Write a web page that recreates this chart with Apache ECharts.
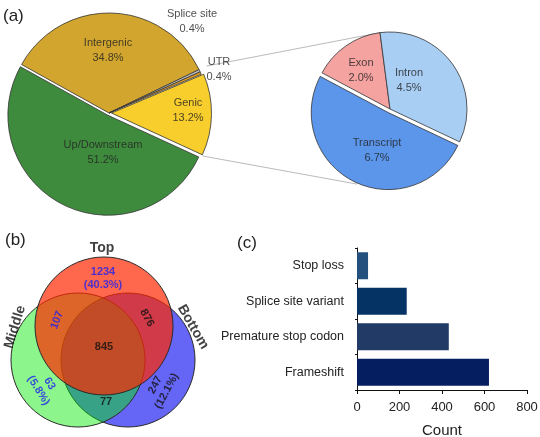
<!DOCTYPE html>
<html>
<head>
<meta charset="utf-8">
<script src="https://cdn.jsdelivr.net/npm/echarts@6/dist/echarts.min.js"></script>
<style>
html,body{margin:0;padding:0;background:#fff;}
#main{width:540px;height:437px;}
</style>
</head>
<body>
<div id="main"></div>
<script>
// ---------- data ----------
// (a) main pie (percent of variants)
const pieMainNames  = ['Intergenic', 'Splice site', 'UTR', 'Genic', 'Up/Downstream'];
const pieMainValues = [34.8, 0.4, 0.4, 13.2, 51.2];
// (a) secondary pie (breakdown of Genic)
const pieSubNames  = ['Exon', 'Intron', 'Transcript'];
const pieSubValues = [2.0, 4.5, 6.7];
// (b) Venn counts
const vennSets = ['Top', 'Middle', 'Bottom'];
const onlyTop = 1234, onlyMiddle = 63, onlyBottom = 247;
const topMiddle = 107, topBottom = 876, middleBottom = 77, allThree = 845;
// (c) bar chart (bottom-to-top order)
const barCategories = ['Frameshift', 'Premature stop codon', 'Splice site variant', 'Stop loss'];
const barValues = [621, 432, 234, 52];

// ---------- layout / style (not data) ----------
const FONT = 'Liberation Sans, Arial, sans-serif';
const P1 = {cx: 109, cy: 113, r: 100, start: 151, offset: 2.5};
const P2 = {cx: 390, cy: 109, r: 77, start: 152, offset: 4};
const pieMainExploded = ['Genic', 'Up/Downstream'];
const pieSubExploded = ['Transcript'];
const pieMainColors = ['#D2A62E', '#BDBDBD', '#E8A020', '#F8CE2C', '#3F8B3E'];
const pieSubColors = ['#F4A3A1', '#A9CEF4', '#5B96EB'];
const pieMainLabelPos = [[108, 50], [192, 21], [219, 69], [188, 110], [103, 152]];
const pieSubLabelPos = [[361, 70], [409, 80], [377, 150]];
const vennCircles = [ // drawn order: Bottom, Middle, Top
  {set: 'Bottom', cx: 128, cy: 360, r: 67, color: 'rgba(0,0,240,0.6)'},
  {set: 'Middle', cx: 78,  cy: 360, r: 67, color: 'rgba(0,235,0,0.45)'},
  {set: 'Top',    cx: 104, cy: 326, r: 69, color: 'rgba(255,40,0,0.7)'}
];
const BLUE = '#2222EE', BLACK = '#111';
const barColors = ['#051E5F', '#213A66', '#053464', '#23507D'];

// ---------- derived ----------
const topTotal = onlyTop + topMiddle + topBottom + allThree;
const middleTotal = onlyMiddle + topMiddle + middleBottom + allThree;
const bottomTotal = onlyBottom + topBottom + middleBottom + allThree;
const pct = (a, b) => '(' + (100 * a / b).toFixed(1) + '%)';

const textMarks = [];
pieMainNames.forEach((n, i) => textMarks.push({x: pieMainLabelPos[i][0], y: pieMainLabelPos[i][1],
  text: n + '\n' + pieMainValues[i].toFixed(1) + '%', rot: 0, color: '#222', size: 11, weight: 'normal'}));
pieSubNames.forEach((n, i) => textMarks.push({x: pieSubLabelPos[i][0], y: pieSubLabelPos[i][1],
  text: n + '\n' + pieSubValues[i].toFixed(1) + '%', rot: 0, color: '#222', size: 11, weight: 'normal'}));
[
  {x: 102, y: 248, text: vennSets[0], rot: 0, color: BLACK, size: 14},
  {x: 15, y: 327, text: vennSets[1], rot: 73, color: BLACK, size: 14},
  {x: 193, y: 327, text: vennSets[2], rot: -60, color: BLACK, size: 14},
  {x: 103, y: 278, text: onlyTop + '\n' + pct(onlyTop, topTotal), rot: 0, color: BLUE, size: 11},
  {x: 57, y: 320, text: String(topMiddle), rot: 70, color: BLUE, size: 11},
  {x: 147, y: 318, text: String(topBottom), rot: -62, color: BLACK, size: 11},
  {x: 104, y: 347, text: String(allThree), rot: 0, color: BLACK, size: 11},
  {x: 44, y: 387, text: onlyMiddle + '\n' + pct(onlyMiddle, middleTotal), rot: -58, color: BLUE, size: 11},
  {x: 161, y: 388, text: onlyBottom + '\n' + pct(onlyBottom, bottomTotal), rot: 62, color: BLACK, size: 11},
  {x: 106, y: 402, text: String(middleBottom), rot: 0, color: BLACK, size: 11}
].forEach(l => { l.weight = 'bold'; textMarks.push(l); });

function pt(p, deg, d) {
  const a = deg * Math.PI / 180;
  return [p.cx + d * Math.cos(a), p.cy - d * Math.sin(a)];
}
const total1 = pieMainValues.reduce((a, b) => a + b, 0);
const genicIdx = pieMainNames.indexOf('Genic');
let acc = 0;
for (let i = 0; i < genicIdx - 2; i++) acc += pieMainValues[i];
const upperAngle = P1.start - 360 * acc / total1;
let acc2 = 0;
for (let i = 0; i <= genicIdx; i++) acc2 += pieMainValues[i];
const lowerAngle = P1.start - 360 * acc2 / total1;
const total2 = pieSubValues.reduce((a, b) => a + b, 0);
const subTopAngle = P2.start - 360 * pieSubValues[0] / total2;
const u1 = pt(P1, upperAngle, P1.r + 8), u2 = pt(P2, subTopAngle, P2.r);
const l1 = pt(P1, lowerAngle, P1.r + 3), l2 = pt(P2, -113.7, P2.r + 5);

const chart = echarts.init(document.getElementById('main'), null, {renderer: 'canvas'});

const option = {
  animation: false,
  backgroundColor: '#fff',
  grid: [
    {left: 0, top: 0, width: 540, height: 437, show: false, outerBoundsMode: 'none', containLabel: false},
    {left: 357, top: 248, right: 13, bottom: 47, show: false, outerBoundsMode: 'none', containLabel: false}
  ],
  xAxis: [
    {gridIndex: 0, type: 'value', min: 0, max: 540, show: false},
    {gridIndex: 1, type: 'value', min: 0, max: 800, interval: 200,
     axisLine: {show: true, lineStyle: {color: '#111', width: 1}},
     axisTick: {show: true, length: 4, lineStyle: {color: '#111'}},
     splitLine: {show: false},
     axisLabel: {color: '#222', fontFamily: FONT, fontSize: 13, margin: 11},
     name: 'Count', nameLocation: 'middle', nameGap: 33,
     nameTextStyle: {color: '#222', fontFamily: FONT, fontSize: 15}}
  ],
  yAxis: [
    {gridIndex: 0, type: 'value', min: 0, max: 437, inverse: true, show: false},
    {gridIndex: 1, type: 'category', data: barCategories,
     axisLine: {show: true, lineStyle: {color: '#111', width: 1}},
     axisTick: {show: true, length: 2, lineStyle: {color: '#111'}},
     axisLabel: {color: '#222', fontFamily: FONT, fontSize: 12.5, margin: 13}}
  ],
  graphic: [
    {type: 'line', z: 0, shape: {x1: u1[0], y1: u1[1], x2: u2[0], y2: u2[1]}, style: {stroke: '#BBBBBB', lineWidth: 1}},
    {type: 'line', z: 0, shape: {x1: l1[0], y1: l1[1], x2: l2[0], y2: l2[1]}, style: {stroke: '#BBBBBB', lineWidth: 1}},
    {type: 'text', left: 3, top: 8, style: {text: '(a)', font: '17px ' + FONT, fill: '#222'}},
    {type: 'text', left: 5, top: 232, style: {text: '(b)', font: '17px ' + FONT, fill: '#222'}},
    {type: 'text', left: 237, top: 235, style: {text: '(c)', font: '17px ' + FONT, fill: '#222'}}
  ],
  series: [
    {
      type: 'pie', center: [P1.cx, P1.cy], radius: P1.r, startAngle: P1.start, clockwise: true,
      selectedMode: 'multiple', selectedOffset: P1.offset, silent: true,
      itemStyle: {borderColor: '#333', borderWidth: 0.8},
      label: {show: false}, labelLine: {show: false},
      data: pieMainNames.map((n, i) => ({name: n, value: pieMainValues[i],
        selected: pieMainExploded.includes(n), itemStyle: {color: pieMainColors[i]}}))
    },
    {
      type: 'pie', center: [P2.cx, P2.cy], radius: P2.r, startAngle: P2.start, clockwise: true,
      selectedMode: 'multiple', selectedOffset: P2.offset, silent: true,
      itemStyle: {borderColor: '#333', borderWidth: 0.8},
      label: {show: false}, labelLine: {show: false},
      data: pieSubNames.map((n, i) => ({name: n, value: pieSubValues[i],
        selected: pieSubExploded.includes(n), itemStyle: {color: pieSubColors[i]}}))
    },
    {
      type: 'custom', xAxisIndex: 0, yAxisIndex: 0, silent: true,
      data: vennCircles.map(c => [c.cx, c.cy, c.r]),
      renderItem: (params, api) => {
        const c = api.coord([api.value(0), api.value(1)]);
        const r = api.size([api.value(2), 0])[0];
        return {type: 'circle', shape: {cx: c[0], cy: c[1], r: r},
          style: {fill: vennCircles[params.dataIndex].color, stroke: '#2a2a2a', lineWidth: 1}};
      }
    },
    {
      type: 'scatter', xAxisIndex: 0, yAxisIndex: 0, silent: true, z: 5,
      symbolSize: 1, itemStyle: {color: 'rgba(0,0,0,0)'},
      data: textMarks.map(l => ({
        value: [l.x, l.y],
        label: {show: true, position: 'inside', formatter: l.text, rotate: l.rot, color: l.color,
          fontWeight: l.weight, fontFamily: FONT, fontSize: l.size, lineHeight: l.size + (l.weight === 'bold' ? 2 : 4),
          align: 'center', verticalAlign: 'middle'}
      }))
    },
    {
      type: 'bar', xAxisIndex: 1, yAxisIndex: 1, silent: true, barCategoryGap: '24%',
      data: barValues.map((v, i) => ({value: v, itemStyle: {color: barColors[i]}}))
    }
  ]
};
chart.setOption(option);
</script>
</body>
</html>
